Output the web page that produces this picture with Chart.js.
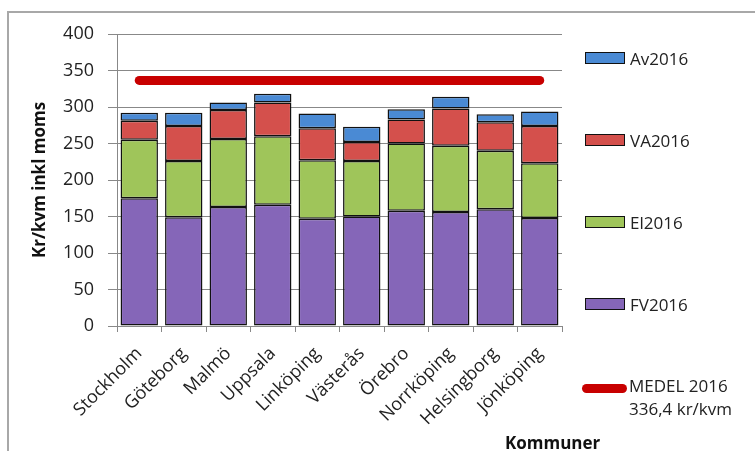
<!DOCTYPE html>
<html>
<head>
<meta charset="utf-8">
<script src="https://cdn.jsdelivr.net/npm/chart.js@4/dist/chart.umd.min.js"></script>
<style>
    html, body { margin: 0; padding: 0; background: #fff; overflow: hidden; }
    #wrap { position: relative; width: 755px; height: 451px; }
    #frame { position: absolute; left: 7px; top: 11px; width: 800px; height: 500px; border: 2px solid #a8a8a8; box-sizing: border-box; }
    #chart-box { position: absolute; left: 0; top: 0; width: 755px; height: 451px; }
    #legend { position: absolute; left: 0; top: 0; font-family: "Open Sans", sans-serif; font-size: 17px; color: #222; }
    .item { position: absolute; left: 585px; display: flex; align-items: center; white-space: nowrap; }
    .swatch { width: 40px; height: 12px; border: 1.5px solid #111; box-sizing: border-box; margin-right: 5px; }
    .medel-line { width: 45px; height: 9px; border-radius: 4.5px; background: #c80000; margin-left: -3px; margin-right: 2px; }
    .medel-text { line-height: 23px; }
    #xtitle { position: absolute; left: 505px; top: 431px; font-family: "Open Sans", sans-serif; font-weight: bold; font-size: 17px; color: #111; }
</style>
</head>
<body>
<div id="wrap">
    <div id="frame"></div>
    <div id="chart-box"><canvas id="kostnad-chart"></canvas></div>
    <div id="legend"></div>
    <div id="xtitle">Kommuner</div>
</div>
<script>
// Kostnader per kommun 2016, kr/kvm inkl moms
const kommuner = ['Stockholm', 'Göteborg', 'Malmö', 'Uppsala', 'Linköping', 'Västerås', 'Örebro', 'Norrköping', 'Helsingborg', 'Jönköping'];
const fv2016 = [175, 149, 163, 166, 147, 150, 158, 156, 160, 148];
const el2016 = [80, 77, 93, 94, 80, 76, 92, 91, 80, 75];
const va2016 = [26, 48, 40, 46, 44, 26, 33, 51, 39, 51];
const av2016 = [11, 18, 10, 12, 20, 21, 14, 16, 11, 20];
const medel2016 = 336.4;
const yTicks = [0, 50, 100, 150, 200, 250, 300, 350, 400];

(function() {
    const seriesList = [
        { label: 'FV2016', data: fv2016, color: '#8566b8' },
        { label: 'El2016', data: el2016, color: '#9fc55a' },
        { label: 'VA2016', data: va2016, color: '#d4504c' },
        { label: 'Av2016', data: av2016, color: '#4a8ad4' }
    ];

    const barSets = seriesList.map(s => ({
        type: 'bar',
        label: s.label,
        data: s.data,
        backgroundColor: s.color,
        borderColor: '#111',
        borderWidth: 1.5,
        borderSkipped: false,
        stack: 'kost',
        order: 1,
        barPercentage: 0.84,
        categoryPercentage: 1
    }));

    const medelSet = {
        type: 'line',
        label: 'MEDEL 2016',
        data: kommuner.map(() => medel2016),
        borderColor: '#c80000',
        borderWidth: 9,
        borderCapStyle: 'round',
        pointRadius: 0,
        fill: false,
        stack: 'medel',
        order: 0
    };

    const tickFont = { family: 'Open Sans', size: 18 };

    new Chart(document.getElementById('kostnad-chart'), {
        data: {
            labels: kommuner,
            datasets: barSets.concat([medelSet])
        },
        options: {
            responsive: true,
            maintainAspectRatio: false,
            animation: false,
            layout: { padding: { top: 34, right: 193, bottom: 0, left: 0 } },
            plugins: {
                legend: { display: false },
                tooltip: { enabled: false }
            },
            scales: {
                x: {
                    stacked: true,
                    grid: { display: true, drawOnChartArea: false, drawTicks: true, tickLength: 6, color: '#888', offset: true },
                    border: { color: '#888', width: 1 },
                    ticks: { font: tickFont, color: '#222', minRotation: 45, maxRotation: 45, padding: 11 },
                    afterFit: scale => { scale.height = 125; }
                },
                y: {
                    stacked: true,
                    min: 0,
                    max: 400,
                    afterBuildTicks: scale => { scale.ticks = yTicks.map(v => ({ value: v })); },
                    grid: { color: '#888', tickLength: 9 },
                    border: { color: '#888', width: 1 },
                    ticks: { font: tickFont, color: '#222', padding: 14 },
                    title: {
                        display: true,
                        text: 'Kr/kvm inkl moms',
                        font: { family: 'Open Sans', size: 17, weight: 'bold' },
                        color: '#111',
                        padding: { top: 30, bottom: 0 }
                    },
                    afterFit: scale => { scale.width = 117; }
                }
            }
        }
    });

    // legend on the right, top item is the top segment
    const legend = document.getElementById('legend');
    const rowTops = [58, 140, 222, 304];
    seriesList.slice().reverse().forEach((s, i) => {
        const row = document.createElement('div');
        row.className = 'item';
        row.style.top = (rowTops[i] - 12) + 'px';
        row.style.height = '24px';
        row.innerHTML = '<span class="swatch" style="background:' + s.color + '"></span><span>' + s.label + '</span>';
        legend.appendChild(row);
    });
    const medelRow = document.createElement('div');
    medelRow.className = 'item';
    medelRow.style.top = '374px';
    medelRow.style.alignItems = 'flex-start';
    medelRow.innerHTML = '<span class="medel-line" style="margin-top:10px"></span><span class="medel-text">MEDEL 2016<br>' +
        medel2016.toFixed(1).replace('.', ',') + ' kr/kvm</span>';
    legend.appendChild(medelRow);
})();
</script>
</body>
</html>
